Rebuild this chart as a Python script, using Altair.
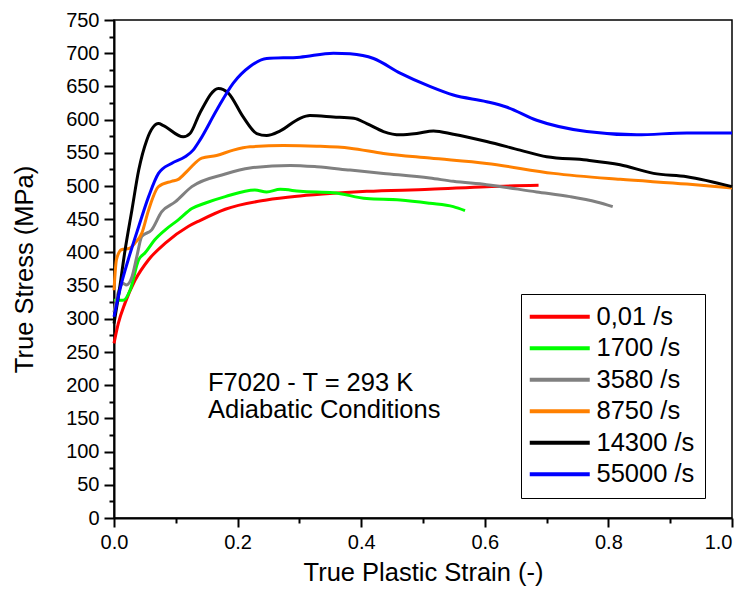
import altair as alt
import pandas as pd

# ---- data ----
series_names = ["0,01 /s", "1700 /s", "3580 /s", "8750 /s", "14300 /s", "55000 /s"]
series_colors = ["#FF0000", "#00FF00", "#808080", "#FF8000", "#000000", "#0000FF"]

red_x = [0, 0.007, 0.018, 0.034, 0.056, 0.083, 0.12, 0.139, 0.18, 0.247, 0.301, 0.355, 0.409, 0.511, 0.603, 0.687]
red_y = [263, 293, 324, 358, 389, 414, 439, 448, 465, 479, 485, 489, 492, 495, 499, 501]

green_x = [0, 0.015, 0.026, 0.04, 0.05, 0.066, 0.083, 0.104, 0.126, 0.147, 0.18, 0.228, 0.247, 0.269,
           0.301, 0.355, 0.409, 0.463, 0.511, 0.549, 0.568]
green_y = [328, 328, 343, 389, 399, 419, 434, 449, 466, 474, 484, 494, 491, 495,
           492, 490, 481, 479, 474, 469, 463]

gray_x = [0, 0.007, 0.015, 0.02, 0.029, 0.037, 0.045, 0.061, 0.077, 0.099, 0.126, 0.18, 0.22, 0.285,
          0.328, 0.382, 0.436, 0.511, 0.549, 0.603, 0.684, 0.738, 0.781, 0.807]
gray_y = [310, 340, 353, 351, 363, 394, 424, 434, 461, 476, 499, 518, 527, 531,
          529, 524, 519, 512, 507, 502, 491, 484, 476, 469]

orange_x = [0, 0.004, 0.012, 0.025, 0.034, 0.045, 0.056, 0.072, 0.093, 0.104, 0.12, 0.142, 0.166, 0.193,
            0.22, 0.274, 0.328, 0.382, 0.436, 0.511, 0.603, 0.711, 0.819, 0.927, 1.0]
orange_y = [343, 389, 404, 406, 414, 429, 464, 499, 507, 510, 524, 542, 546, 554,
            559, 561, 560, 557, 549, 542, 534, 519, 510, 503, 497]

black_x = [0, 0.007, 0.018, 0.029, 0.04, 0.053, 0.072, 0.08, 0.112, 0.123, 0.139, 0.169, 0.185, 0.209,
           0.231, 0.247, 0.269, 0.301, 0.317, 0.355, 0.388, 0.409, 0.436, 0.463, 0.49, 0.517, 0.549,
           0.603, 0.657, 0.7, 0.765, 0.819, 0.873, 0.927, 1.0]
black_y = [293, 333, 404, 464, 524, 569, 594, 591, 574, 579, 610, 647, 640, 604,
           579, 576, 583, 602, 606, 604, 602, 594, 582, 577, 579, 583, 578,
           567, 554, 544, 539, 532, 519, 514, 499]

blue_x = [0, 0.012, 0.023, 0.04, 0.056, 0.072, 0.093, 0.115, 0.128, 0.139, 0.166, 0.193, 0.22, 0.247,
          0.301, 0.355, 0.382, 0.42, 0.463, 0.511, 0.549, 0.603, 0.635, 0.684, 0.765, 0.846, 0.927, 1.0]
blue_y = [303, 353, 389, 439, 484, 519, 534, 544, 554, 569, 614, 655, 680, 692,
          694, 700, 699, 692, 670, 650, 637, 627, 619, 599, 582, 577, 580, 580]

x_major = [0, 0.2, 0.4, 0.6, 0.8, 1.0]
x_minor = [0.1, 0.3, 0.5, 0.7, 0.9]
y_major = list(range(0, 751, 50))
y_minor = list(range(25, 751, 50))

note_lines = ["F7020 - T = 293 K", "Adiabatic Conditions"]
note_x = [0.152, 0.152]
note_y = [203, 163]

# ---- build table ----
all_x = [red_x, green_x, gray_x, orange_x, black_x, blue_x]
all_y = [red_y, green_y, gray_y, orange_y, black_y, blue_y]
rows = []
for name, xs, ys in zip(series_names, all_x, all_y):
    for i, (xv, yv) in enumerate(zip(xs, ys)):
        rows.append({"series": name, "strain": xv, "stress": yv, "order": i})
df = pd.DataFrame(rows)

notes = pd.DataFrame({"text": note_lines, "x": note_x, "y": note_y})

FONT = "Liberation Sans"
BIG = 25.5
xscale = alt.Scale(domain=[0, 1], nice=False)
yscale = alt.Scale(domain=[0, 750], nice=False)

x_axis = alt.Axis(
    values=x_major, format=".1f", orient="bottom",
    tickSize=9, title="True Plastic Strain (-)", grid=False,
    labelFontSize=20, titleFontSize=BIG, titleFontWeight="normal",
    labelPadding=5, titlePadding=8, domainWidth=2, tickWidth=2,
    labelOverlap=False, labelFlush=False,
    labelAlign={"expr": "datum.value >= 1 ? 'right' : 'center'"},
)
y_axis = alt.Axis(
    values=y_major, orient="left",
    tickSize=10, title="True Stress (MPa)", grid=False,
    labelFontSize=20, titleFontSize=BIG, titleFontWeight="normal",
    labelPadding=5, titlePadding=28, domainWidth=2, tickWidth=2,
    labelOverlap=False, labelFlush=False,
)
x_axis_minor = alt.Axis(
    values=x_minor, orient="bottom", tickSize=5, labels=False, title=None,
    grid=False, domain=False, tickWidth=2,
)
y_axis_minor = alt.Axis(
    values=y_minor, orient="left", tickSize=5, labels=False, title=None,
    grid=False, domain=False, tickWidth=2,
)

base = alt.Chart(df)

minor = base.mark_line(opacity=0).encode(
    x=alt.X("strain:Q", scale=xscale, axis=x_axis_minor),
    y=alt.Y("stress:Q", scale=yscale, axis=y_axis_minor),
    detail="series:N",
)

lines = base.mark_line(strokeWidth=3, interpolate="monotone").encode(
    x=alt.X("strain:Q", scale=xscale, axis=x_axis),
    y=alt.Y("stress:Q", scale=yscale, axis=y_axis),
    color=alt.Color(
        "series:N",
        scale=alt.Scale(domain=series_names, range=series_colors),
        sort=series_names,
        legend=alt.Legend(
            title=None,
            orient="none",
            legendX=407,
            legendY=274,
            symbolType="M-6,0L6,0",
            symbolSize=100,
            symbolStrokeWidth=4,
            symbolOffset=16,
            labelFontSize=BIG,
            labelFont=FONT,
            labelColor="black",
            strokeColor="black",
            padding=10,
            rowPadding=4.5,
            labelOffset=24,
        ),
    ),
    order="order:Q",
)

text = alt.Chart(notes).mark_text(
    align="left", baseline="middle", fontSize=BIG, font=FONT, color="black"
).encode(
    x=alt.X("x:Q", scale=xscale, axis=None),
    y=alt.Y("y:Q", scale=yscale, axis=None),
    text="text:N",
)

chart = (
    alt.layer(minor, lines, text)
    .resolve_axis(x="independent", y="independent")
    .properties(
        width=618,
        height=498,
        autosize=alt.AutoSizeParams(type="none"),
        padding={"left": 106, "top": 12, "right": 7, "bottom": 69},
    )
    .configure(font=FONT)
    .configure_view(stroke="black", strokeWidth=1.5)
    .configure_axis(
        labelFont=FONT, titleFont=FONT, labelColor="black", titleColor="black",
        domainColor="black", tickColor="black",
    )
)

chart.save("out.html", embed_options={"renderer": "svg", "actions": False})
